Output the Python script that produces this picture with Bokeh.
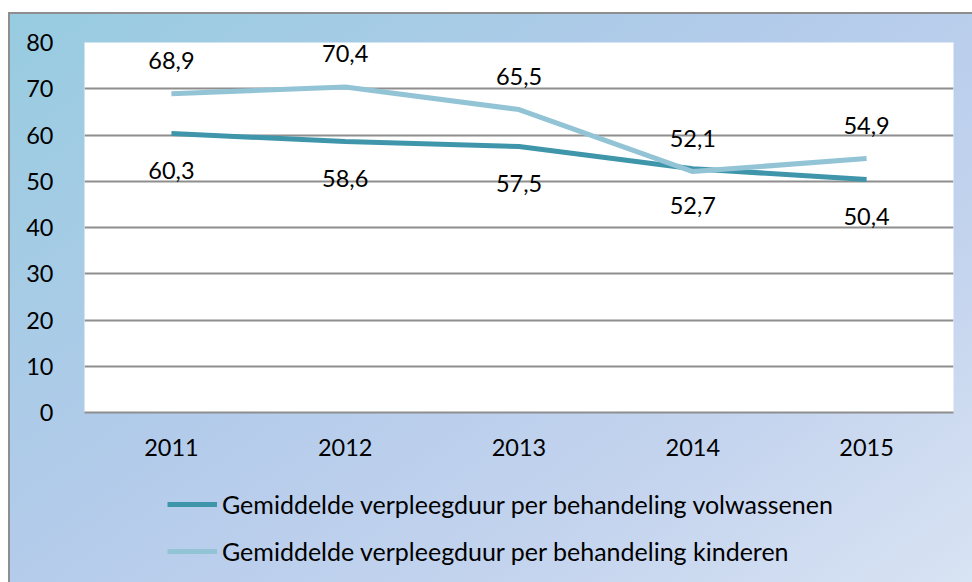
from bokeh.plotting import figure
from bokeh.layouts import column
from bokeh.models import ColumnDataSource, Range1d, FactorRange, Legend, LegendItem, FixedTicker
from bokeh.core.properties import value
from bokeh.embed import file_html
from bokeh.resources import INLINE

years = ["2011", "2012", "2013", "2014", "2015"]
volwassenen = [60.3, 58.6, 57.5, 52.7, 50.4]
kinderen = [68.9, 70.4, 65.5, 52.1, 54.9]
name_volw = "Gemiddelde verpleegduur per behandeling volwassenen"
name_kind = "Gemiddelde verpleegduur per behandeling kinderen"
y_ticks = [0, 10, 20, 30, 40, 50, 60, 70, 80]

FONT = "Lato"
FS = "23.5px"
LFS = "25px"
DARK = "#3f96ab"
LIGHT = "#92c4d6"

def fmt(v):
    return ("%.1f" % v).replace(".", ",")

src = ColumnDataSource(dict(
    x=years, v=volwassenen, k=kinderen,
    vl=[fmt(v) for v in volwassenen], kl=[fmt(v) for v in kinderen],
))

p = figure(width=964, height=458, output_backend="svg", toolbar_location=None,
           x_range=FactorRange(factors=years, range_padding=0), y_range=Range1d(0, 80),
           min_border_left=76, min_border_top=30, min_border_right=19, min_border_bottom=58)
p.border_fill_color = None
p.background_fill_color = "white"
p.outline_line_color = None

r1 = p.line("x", "v", source=src, line_color=DARK, line_width=5)
r2 = p.line("x", "k", source=src, line_color=LIGHT, line_width=5)

p.text("x", "k", text="kl", source=src, text_align="center", text_baseline="middle",
       y_offset=-33, text_font=value(FONT), text_font_size=FS, text_color="black")
p.text("x", "v", text="vl", source=src, text_align="center", text_baseline="middle",
       y_offset=37, text_font=value(FONT), text_font_size=FS, text_color="black")

p.xgrid.grid_line_color = None
p.ygrid.grid_line_color = "#8e8e8e"
p.ygrid.grid_line_width = 2
p.yaxis.ticker = FixedTicker(ticks=y_ticks)
p.yaxis.axis_line_color = None
p.yaxis.major_tick_line_color = None
p.yaxis.minor_tick_line_color = None
p.yaxis.major_tick_out = 0
p.yaxis.major_tick_in = 0
p.yaxis.minor_tick_out = 0
p.yaxis.major_label_standoff = 31
p.xaxis.axis_line_color = "#8e8e8e"
p.xaxis.axis_line_width = 2
p.xaxis.major_tick_line_color = None
p.xaxis.major_tick_out = 0
p.xaxis.major_tick_in = 0
p.xaxis.major_label_standoff = 26
for ax in (p.xaxis, p.yaxis):
    ax.major_label_text_font = FONT
    ax.major_label_text_font_size = FS
    ax.major_label_text_color = "black"

# legend strip below the chart (series drawn out of its visible y range)
p2 = figure(width=964, height=112, output_backend="svg", toolbar_location=None,
            x_range=p.x_range, y_range=Range1d(-2, -1), min_border=0)
p2.border_fill_color = None
p2.background_fill_color = None
p2.outline_line_color = None
p2.axis.visible = False
p2.grid.grid_line_color = None
g1 = p2.line("x", "v", source=src, line_color=DARK, line_width=5)
g2 = p2.line("x", "k", source=src, line_color=LIGHT, line_width=5)

legend = Legend(items=[LegendItem(label=name_volw, renderers=[g1]),
                       LegendItem(label=name_kind, renderers=[g2])],
                location=(83, 16), orientation="vertical",
                glyph_width=50, glyph_height=30, label_height=30, spacing=17,
                label_standoff=5, padding=0, margin=0,
                border_line_color=None, background_fill_alpha=0,
                label_text_font=FONT, label_text_font_size=LFS, label_text_color="black")
p2.add_layout(legend)

layout = column(p, p2, spacing=0)
layout.styles = {
    "margin-top": "12px",
    "margin-left": "8px",
    "background": "linear-gradient(145deg, #97cce0 0%, #b2cbea 42%, #c3d3ee 72%, #d8e3f3 100%)",
    "box-shadow": "inset 2px 2px 0 #8e8e8e",
}

open("out.html", "w").write(file_html(layout, INLINE))
